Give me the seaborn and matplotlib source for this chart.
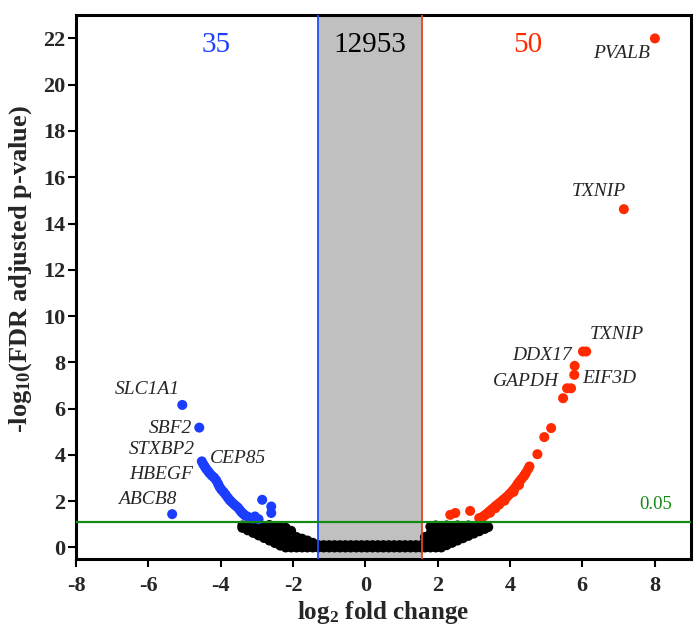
import matplotlib
matplotlib.use("Agg")
import matplotlib.pyplot as plt
import seaborn as sns
import pandas as pd

# ---------------- data ----------------
# non-significant genes (black cloud)
black_x = [-3.40, -3.40, -3.25, -3.25, -3.10, -3.10, -2.95, -2.95, -2.95,
           -2.80, -2.80, -2.80, -2.65, -2.65, -2.65, -2.65, -2.50, -2.50, -2.50, -2.50,
           -2.35, -2.35, -2.35, -2.35, -2.20, -2.20, -2.20, -2.20, -2.05, -2.05, -2.05,
           -1.90, -1.90, -1.90, -1.75, -1.75, -1.75, -1.60, -1.60, -1.45, -1.45, -1.30, -1.30,
           -1.15, -1.00, -0.85, -0.70, -0.55, -0.40, -0.25, -0.10, 0.05, 0.20, 0.35, 0.50,
           0.65, 0.80, 0.95, 1.10, 1.25, 1.40, 1.55,
           -1.15, -1.00, -0.85, -0.70, -0.55, -0.40, -0.25, -0.10, 0.05, 0.20, 0.35, 0.50,
           0.65, 0.80, 0.95, 1.10, 1.25, 1.40, 1.55,
           1.65, 1.65, 1.65, 1.80, 1.80, 1.80, 1.80, 1.95, 1.95, 1.95, 1.95,
           2.10, 2.10, 2.10, 2.10, 2.25, 2.25, 2.25, 2.25, 2.40, 2.40, 2.40, 2.40,
           2.55, 2.55, 2.55, 2.55, 2.70, 2.70, 2.70, 2.85, 2.85, 2.85, 3.00, 3.00,
           3.15, 3.15, 3.30, 3.30, 3.40]
black_y = [0.85, 0.95, 0.74, 0.92, 0.63, 0.90, 0.52, 0.75, 0.95,
           0.41, 0.65, 0.90, 0.30, 0.55, 0.82, 0.97, 0.19, 0.45, 0.70, 0.92,
           0.08, 0.35, 0.60, 0.88, 0.00, 0.30, 0.55, 0.85, 0.00, 0.30, 0.72,
           0.00, 0.25, 0.45, 0.00, 0.20, 0.38, 0.00, 0.30, 0.00, 0.20, 0.00, 0.10,
           0.00, 0.00, 0.00, 0.00, 0.00, 0.00, 0.00, 0.00, 0.00, 0.00, 0.00, 0.00,
           0.00, 0.00, 0.00, 0.00, 0.00, 0.00, 0.00,
           0.10, 0.10, 0.10, 0.10, 0.10, 0.10, 0.10, 0.10, 0.10, 0.10, 0.10, 0.10,
           0.10, 0.10, 0.10, 0.10, 0.10, 0.10, 0.10,
           0.00, 0.25, 0.45, 0.00, 0.30, 0.60, 0.90, 0.00, 0.30, 0.60, 0.95,
           0.00, 0.30, 0.60, 0.92, 0.10, 0.35, 0.65, 0.95, 0.20, 0.45, 0.70, 0.92,
           0.30, 0.55, 0.80, 0.95, 0.40, 0.65, 0.90, 0.50, 0.75, 0.95, 0.60, 0.85,
           0.70, 0.90, 0.80, 0.95, 0.88]

# down-regulated genes (35, blue)
blue_x = [-5.06, -4.59, -5.34,
          -4.52, -4.48, -4.44, -4.40, -4.35, -4.30, -4.24, -4.18, -4.12, -4.07, -4.03, -3.98,
          -3.92, -3.86, -3.80, -3.75, -3.70, -3.64, -3.58, -3.52, -3.47, -3.42, -3.37, -3.32,
          -3.25, -3.18,
          -3.10, -3.05, -2.85, -2.60, -2.60, -2.95]
blue_y = [6.16, 5.18, 1.44,
          3.72, 3.60, 3.50, 3.40, 3.30, 3.20, 3.10, 3.02, 2.90, 2.75, 2.62, 2.50,
          2.40, 2.28, 2.15, 2.05, 1.97, 1.88, 1.80, 1.72, 1.62, 1.52, 1.45, 1.38,
          1.33, 1.27,
          1.25, 1.34, 2.06, 1.77, 1.49, 1.22]

# up-regulated genes (50, red)
red_x = [8.01, 7.15, 6.02, 6.11, 5.79, 5.78, 5.58, 5.69, 5.47, 5.14, 4.95, 4.76,
         3.22, 3.28, 3.33, 3.38, 3.43, 3.48, 3.53, 3.58, 3.63, 3.68, 3.73, 3.78, 3.83,
         3.88, 3.93, 3.98, 4.03, 4.08, 4.13, 4.18, 4.22, 4.27, 4.32, 4.38, 4.44, 4.50, 4.54,
         3.15, 2.35, 2.49, 2.90, 3.60, 3.85, 4.10, 4.25, 4.40, 3.45, 3.70]
red_y = [22.0, 14.62, 8.47, 8.47, 7.85, 7.46, 6.88, 6.88, 6.45, 5.16, 4.77, 4.03,
         1.30, 1.36, 1.42, 1.48, 1.55, 1.62, 1.68, 1.75, 1.82, 1.88, 1.94, 2.01, 2.08,
         2.14, 2.21, 2.29, 2.37, 2.46, 2.55, 2.66, 2.76, 2.86, 2.96, 3.07, 3.22, 3.38, 3.50,
         1.27, 1.41, 1.49, 1.58, 1.70, 2.02, 2.40, 2.70, 3.12, 1.50, 1.85]

gene_names = ["PVALB", "TXNIP", "TXNIP", "DDX17", "EIF3D", "GAPDH",
              "SLC1A1", "SBF2", "STXBP2", "CEP85", "HBEGF", "ABCB8"]
gene_x = [7.88, 6.45, 6.96, 5.72, 5.99, 5.35, -5.12, -4.80, -4.71, -4.29, -4.75, -5.21]
gene_y = [21.36, 15.38, 9.19, 8.28, 7.32, 7.17, 6.81, 5.16, 4.22, 3.86, 3.14, 2.06]
gene_ha = ["right", "center", "center", "right", "left", "right",
           "right", "right", "right", "left", "right", "right"]

count_labels = ["35", "12953", "50"]
count_x = [-4.13, 0.135, 4.5]
count_y = [21.7, 21.7, 21.7]
count_colors = ["#1f3fff", "black", "#ff2a00"]

fc_low, fc_high = -1.3, 1.57
sig_level = 1.1
sig_text = "0.05"

x_ticks = [-8, -6, -4, -2, 0, 2, 4, 6, 8]
y_ticks = [0, 2, 4, 6, 8, 10, 12, 14, 16, 18, 20, 22]

# ---------------- styling ----------------
sns.set_style("ticks")
plt.rcParams["font.family"] = ["Liberation Serif", "DejaVu Serif"]
plt.rcParams["mathtext.fontset"] = "custom"
plt.rcParams["mathtext.rm"] = "Liberation Serif:bold"
plt.rcParams["mathtext.bf"] = "Liberation Serif:bold"
plt.rcParams["mathtext.it"] = "Liberation Serif:italic:bold"

df = pd.DataFrame({
    "log2fc": black_x + blue_x + red_x,
    "nlogp": black_y + blue_y + red_y,
    "group": ["ns"] * len(black_x) + ["down"] * len(blue_x) + ["up"] * len(red_x),
})
palette = {"ns": "black", "down": "#1a3dff", "up": "#ff2a00"}

fig = plt.figure(figsize=(6.97, 6.37), dpi=100)
ax = fig.add_axes([0.109, 0.1224, 0.882, 0.8536])

ax.axvspan(fc_low, fc_high, color="#c0c0c0", lw=0, zorder=0)
sns.scatterplot(data=df, x="log2fc", y="nlogp", hue="group", palette=palette,
                s=52, linewidth=0, edgecolor="none", legend=False, ax=ax, zorder=2)
ax.axvline(fc_low, color="#1f4cff", lw=1.3, zorder=3)
ax.axvline(fc_high, color="#e8411f", lw=1.3, zorder=3)
ax.axhline(sig_level, color="#138a13", lw=1.6, zorder=4)
ax.text(8.48, 1.84, sig_text, color="#138a13", fontsize=13.5, ha="right", va="center")

for name, gx, gy, ha in zip(gene_names, gene_x, gene_y, gene_ha):
    ax.text(gx, gy, name, fontstyle="italic", fontsize=14, ha=ha, va="center")

for lab, cx, cy, col in zip(count_labels, count_x, count_y, count_colors):
    ax.text(cx, cy, lab, color=col, fontsize=21, ha="center", va="center")

ax.set_xlim(-8, 9)
ax.set_ylim(-0.5, 23)
ax.set_xticks(x_ticks)
ax.set_yticks(y_ticks)
ax.set_xticklabels([str(t) for t in x_ticks])
ax.set_yticklabels([str(t) for t in y_ticks])
ax.tick_params(axis="both", direction="out", length=5.5, width=1.5, labelsize=16, color="black")
ax.tick_params(axis="y", pad=2)
ax.tick_params(axis="x", pad=7)
for lab in ax.get_xticklabels() + ax.get_yticklabels():
    lab.set_fontweight("bold")
for sp in ax.spines.values():
    sp.set_linewidth(2.2)
    sp.set_color("black")

ax.set_xlabel(r"log$_{\mathbf{2}}$ fold change", fontsize=18, fontweight="bold", labelpad=2)
ax.set_ylabel(r"-log$_{\mathbf{10}}$(FDR adjusted p-value)", fontsize=19, fontweight="bold")
ax.yaxis.set_label_coords(-0.068, 0.533)

fig.savefig("out.png", dpi=100)
